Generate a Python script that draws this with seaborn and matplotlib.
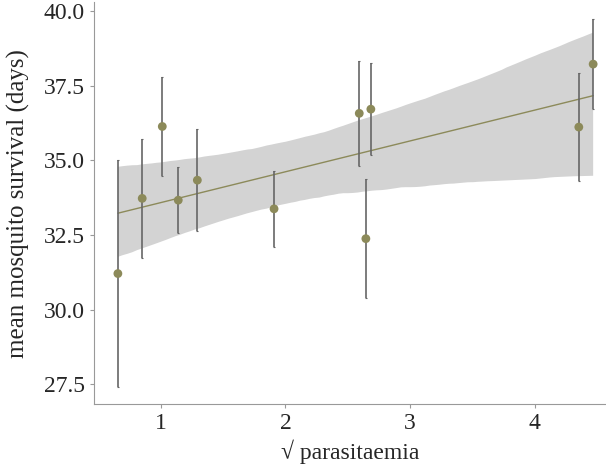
import numpy as np
import pandas as pd
import matplotlib
matplotlib.use("Agg")
import matplotlib.pyplot as plt
import seaborn as sns

# values
sqrt_parasitaemia = [0.657, 0.852, 1.013, 1.141, 1.294, 1.909, 2.645, 2.592, 2.685, 4.352, 4.467]
mean_survival = [31.21, 33.73, 36.14, 33.67, 34.34, 33.38, 32.38, 36.58, 36.72, 36.12, 38.23]
survival_err = [3.8, 2.0, 1.65, 1.1, 1.72, 1.28, 2.0, 1.75, 1.54, 1.8, 1.52]

df = pd.DataFrame({"x": sqrt_parasitaemia, "y": mean_survival, "err": survival_err})

sns.set_style("ticks")
plt.rcParams["font.family"] = ["Liberation Serif", "DejaVu Serif"]

olive = "#8c8a5a"

fig, ax = plt.subplots(figsize=(6.06, 4.73), dpi=100)

# regression line with bootstrapped confidence band
sns.regplot(x="x", y="y", data=df, scatter=False, ci=96, n_boot=5000, seed=1,
            ax=ax, line_kws={"color": olive, "lw": 1.0})
for coll in ax.collections:
    coll.set_facecolor("#d3d3d3")
    coll.set_alpha(1.0)
    coll.set_edgecolor("none")

# error bars and points
ax.errorbar(df["x"], df["y"], yerr=df["err"], fmt="none", ecolor="#666666",
            elinewidth=1.2, capsize=1, capthick=0.8, zorder=3)
sns.scatterplot(x="x", y="y", data=df, color=olive, s=40, edgecolor="none",
                ax=ax, zorder=4)

ax.set_xlim(0.465, 4.57)
ax.set_ylim(26.84, 40.3)
ax.set_xticks([1, 2, 3, 4])
ax.set_yticks([27.5, 30.0, 32.5, 35.0, 37.5, 40.0])
ax.set_yticklabels(["27.5", "30.0", "32.5", "35.0", "37.5", "40.0"])
ax.set_xlabel("\u221a parasitaemia", fontsize=17, labelpad=4)
ax.set_ylabel("mean mosquito survival (days)", fontsize=18, labelpad=10)
ax.tick_params(labelsize=17, color="#999999", length=3, width=0.8)
for side in ["left", "bottom"]:
    ax.spines[side].set_color("#999999")
sns.despine(ax=ax)

fig.subplots_adjust(left=0.155, right=1.0, top=0.995, bottom=0.146)
fig.savefig("out.png", dpi=100)
